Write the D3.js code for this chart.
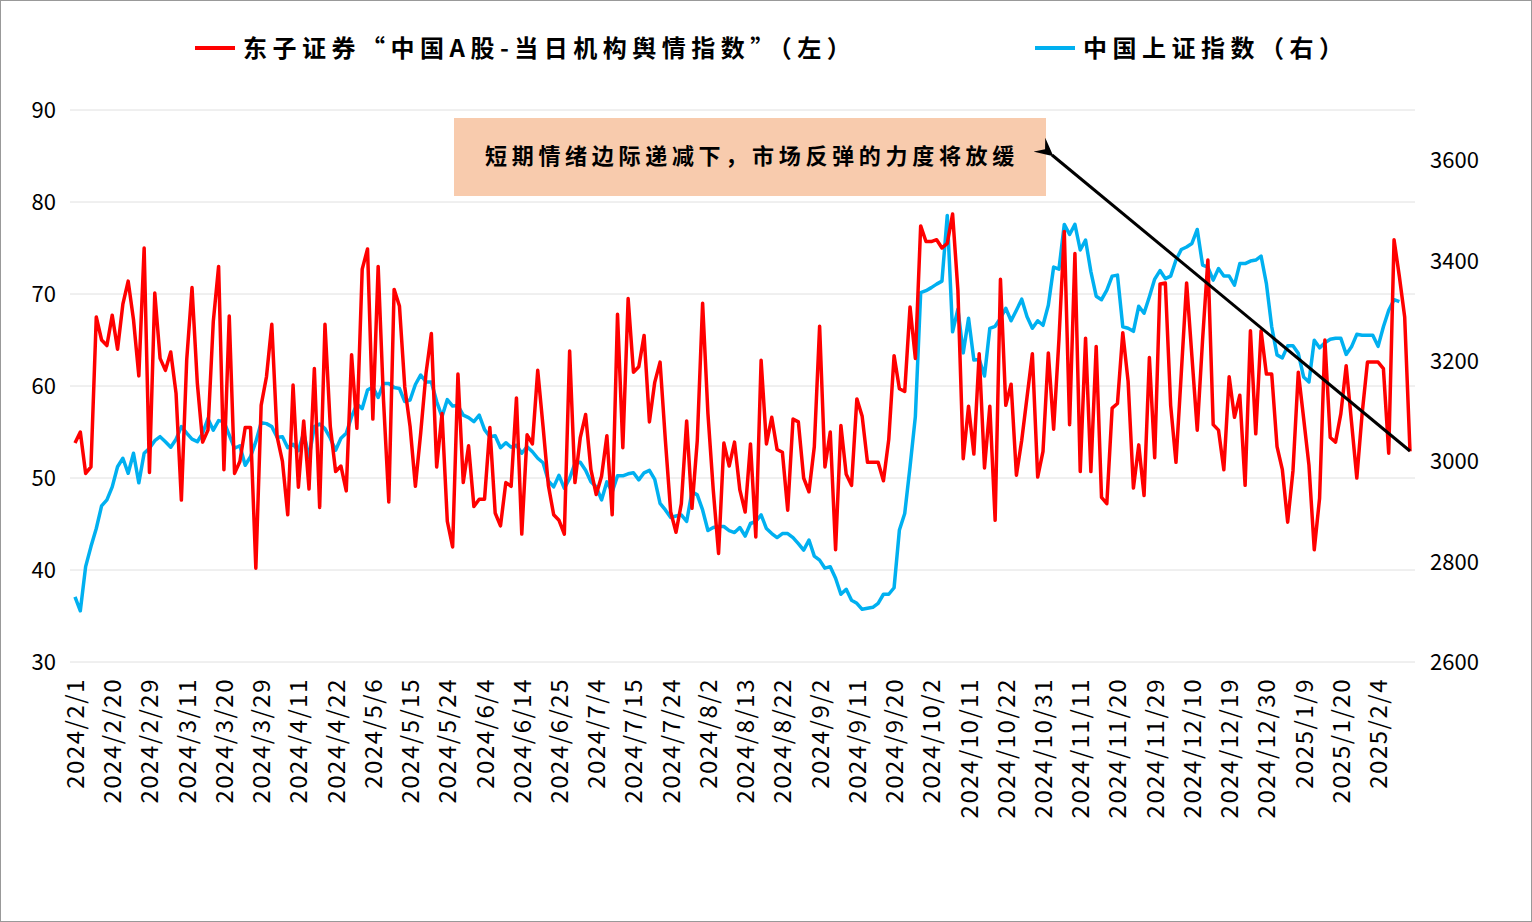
<!DOCTYPE html>
<html><head><meta charset="utf-8">
<script src="https://cdn.jsdelivr.net/npm/d3@7/dist/d3.min.js"></script>
<style>body{margin:0;background:#fff}svg{display:block}</style>
</head><body><svg id="c" width="1532" height="922"></svg>
<script>
const tickLabels=["2024/2/1","2024/2/20","2024/2/29","2024/3/11","2024/3/20","2024/3/29","2024/4/11","2024/4/22","2024/5/6","2024/5/15","2024/5/24","2024/6/4","2024/6/14","2024/6/25","2024/7/4","2024/7/15","2024/7/24","2024/8/2","2024/8/13","2024/8/22","2024/9/2","2024/9/11","2024/9/20","2024/10/2","2024/10/11","2024/10/22","2024/10/31","2024/11/11","2024/11/20","2024/11/29","2024/12/10","2024/12/19","2024/12/30","2025/1/9","2025/1/20","2025/2/4"];
const sentiment=[53.8,55.0,50.5,51.2,67.5,65.0,64.4,67.7,64.0,68.9,71.4,67.2,61.1,75.0,50.6,70.1,63.0,61.7,63.7,59.2,47.6,62.8,70.7,60.3,53.9,55.2,67.0,73.0,50.9,67.6,50.5,51.8,55.5,55.5,40.2,57.9,61.0,66.7,54.5,51.8,46.0,60.1,49.0,
56.2,48.8,61.9,46.8,66.7,55.6,50.7,51.3,48.6,63.4,55.4,72.7,74.9,56.4,73.0,58.5,47.4,70.5,68.7,59.9,55.6,49.1,54.9,61.4,65.7,51.2,57.0,45.3,42.5,61.3,49.5,53.5,46.9,47.7,47.7,55.5,46.2,44.8,49.5,49.1,58.7,43.9,54.7,
53.7,61.7,55.6,49.2,46.0,45.4,43.9,63.8,49.5,54.4,56.9,50.9,48.2,50.2,54.6,46.0,67.8,53.3,69.5,61.5,62.1,65.5,56.1,60.4,62.6,54.1,46.3,44.1,47.2,56.2,46.7,54.1,69.0,57.0,48.7,41.8,53.8,51.3,53.9,48.7,46.3,53.7,43.6,62.8,
53.7,56.6,53.1,52.8,46.5,56.4,56.1,50.0,48.5,53.4,66.5,51.2,55.0,42.2,55.7,50.4,49.2,58.6,56.7,51.7,51.7,51.7,49.7,54.2,63.3,59.7,59.4,68.6,63.0,77.4,75.7,75.7,75.9,75.0,75.5,78.7,70.4,52.1,57.8,52.6,63.5,51.1,57.8,
45.4,71.6,57.9,60.2,50.3,54.1,58.8,63.5,50.1,52.9,63.6,55.3,65.1,76.8,55.8,74.4,50.7,65.2,50.7,64.3,47.9,47.2,57.6,58.1,65.8,60.5,48.9,53.6,48.1,63.1,52.2,71.1,71.2,57.9,51.7,61.4,71.2,63.2,55.2,65.0,73.7,55.8,55.2,
50.9,61.0,56.6,59.0,49.2,66.0,54.8,66.0,61.3,61.3,53.4,50.9,45.2,50.8,61.5,56.5,51.4,42.2,47.8,65.0,54.4,53.9,57.0,62.2,56.1,50.0,57.0,62.6,62.6,62.6,61.9,52.7,75.9,71.9,67.5,52.9];
const shIndex=[2730,2702,2790,2830,2866,2911,2923,2949,2989,3006,2976,3016,2957,3016,3026,3041,3049,3039,3028,3044,3069,3056,3044,3039,3056,3085,3062,3081,3079,3052,3026,3031,2992,3009,3039,3077,3075,3069,3048,3049,3027,3034,3021,
3057,3008,3069,3074,3065,3046,3022,3046,3056,3089,3114,3105,3142,3148,3127,3155,3155,3147,3145,3119,3122,3153,3172,3158,3158,3119,3089,3123,3110,3111,3092,3087,3079,3092,3063,3049,3051,3027,3037,3028,3032,3016,3029,
3019,3006,2997,2961,2949,2972,2946,2966,2996,2998,2982,2959,2949,2923,2959,2939,2971,2971,2975,2977,2963,2977,2982,2964,2916,2903,2888,2891,2893,2880,2939,2933,2903,2862,2868,2870,2870,2862,2858,2868,2851,2876,2880,2893,
2866,2856,2848,2856,2856,2848,2836,2823,2843,2811,2803,2787,2790,2767,2735,2745,2723,2717,2705,2707,2709,2717,2735,2735,2748,2863,2896,2989,3089,3336,3340,3346,3353,3359,3490,3258,3303,3216,3285,3202,3203,3170,3265,
3269,3285,3305,3280,3301,3323,3288,3265,3280,3271,3311,3387,3383,3472,3452,3472,3421,3441,3378,3329,3322,3341,3369,3371,3268,3265,3259,3309,3295,3328,3363,3380,3364,3369,3401,3422,3427,3434,3462,3391,3387,3361,3384,
3369,3369,3351,3394,3394,3399,3401,3409,3354,3268,3212,3206,3230,3230,3215,3168,3158,3241,3226,3236,3243,3245,3245,3213,3228,3253,3251,3251,3251,3229,3268,3301,3322,3318,null,null];
const leftTicks=[30,40,50,60,70,80,90];
const rightTicks=[2600,2800,3000,3200,3400,3600];
const seriesNames=["东子证券“中国A股-当日机构舆情指数”（左）","中国上证指数（右）"];
const note="短期情绪边际递减下，市场反弹的力度将放缓";

const svg=d3.select("#c");
const F="'Noto Sans CJK SC','Noto Sans',sans-serif";
svg.append("rect").attr("x",0.5).attr("y",0.5).attr("width",1531).attr("height",921).attr("fill","#fff").attr("stroke","#999");
const N=sentiment.length;
const x=d3.scaleLinear().domain([0,N-1]).range([75,1410]);
const yL=d3.scaleLinear().domain([30,90]).range([662,110]);
const yR=d3.scaleLinear().domain([2600,3700]).range([662,110]);

svg.append("g").selectAll("line").data(leftTicks).join("line")
 .attr("x1",70).attr("x2",1415).attr("y1",d=>yL(d)).attr("y2",d=>yL(d)).attr("stroke","#e0e0e0").attr("stroke-width",1);
svg.append("g").selectAll("text").data(leftTicks).join("text")
 .attr("x",56).attr("y",d=>yL(d)+8).attr("text-anchor","end").attr("font-family",F).attr("font-size",22).attr("fill","#000").text(d=>d);
svg.append("g").selectAll("text").data(rightTicks).join("text")
 .attr("x",1430).attr("y",d=>yR(d)+8).attr("text-anchor","start").attr("font-family",F).attr("font-size",22).attr("fill","#000").text(d=>d);
svg.append("g").selectAll("text").data(tickLabels).join("text")
 .attr("transform",(d,i)=>`translate(${x(i*7)+9},678) rotate(-90)`).attr("text-anchor","end")
 .attr("font-family",F).attr("font-size",24).attr("letter-spacing",1.5).attr("fill","#000").text(d=>d);

svg.append("path").datum(shIndex).attr("fill","none").attr("stroke","#00B0F0").attr("stroke-width",3.5).attr("stroke-linejoin","round")
 .attr("d",d3.line().defined(d=>d!=null).x((d,i)=>x(i)).y(d=>yR(d)));
svg.append("path").datum(sentiment).attr("fill","none").attr("stroke","#FF0000").attr("stroke-width",3.5).attr("stroke-linejoin","round")
 .attr("d",d3.line().x((d,i)=>x(i)).y(d=>yL(d)));

// legend
const lg=[{c:"#FF0000",x:195,ls:5.5},{c:"#00B0F0",x:1035,ls:5.5}];
lg.forEach((l,k)=>{
 svg.append("line").attr("x1",l.x).attr("x2",l.x+40).attr("y1",48).attr("y2",48).attr("stroke",l.c).attr("stroke-width",4);
 svg.append("text").attr("x",l.x+48).attr("y",57).attr("font-family",F).attr("font-weight","bold").attr("font-size",24).attr("letter-spacing",l.ls).attr("fill","#000").text(seriesNames[k]);
});

// annotation
svg.append("rect").attr("x",454).attr("y",118).attr("width",592).attr("height",78).attr("fill","#F8CBAD");
svg.append("text").attr("x",752).attr("y",164).attr("text-anchor","middle").attr("font-family",F).attr("font-weight","bold").attr("font-size",22).attr("letter-spacing",4.7).attr("fill","#000").text(note);
svg.append("defs").append("marker").attr("id","ah").attr("viewBox","0 0 10 10").attr("refX",1).attr("refY",5)
 .attr("markerWidth",6).attr("markerHeight",6).attr("orient","auto-start-reverse")
 .append("path").attr("d","M10,0 L0,5 L10,10 L6,5 Z").attr("fill","#000");
svg.append("line").attr("x1",x(N-1)).attr("y1",451).attr("x2",1052).attr("y2",155).attr("stroke","#000").attr("stroke-width",3).attr("marker-end","url(#ah)");
</script></body></html>
